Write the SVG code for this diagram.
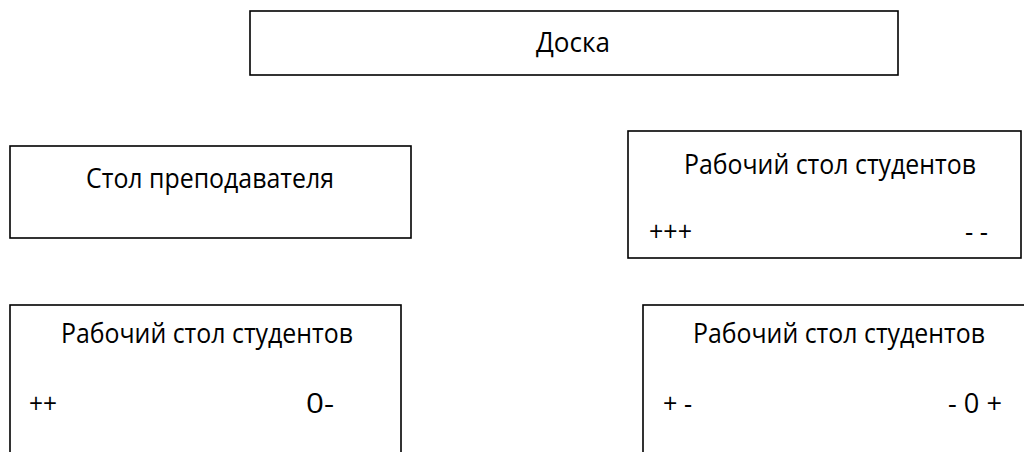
<svg xmlns="http://www.w3.org/2000/svg" width="1024" height="452" viewBox="0 0 1024 452">
<style>
.box{fill:#fff;stroke:#000;stroke-width:1.6}
.t{font-family:"Open Sans","Noto Sans","DejaVu Sans",sans-serif;font-size:27.5px;fill:#000}
.c{text-anchor:middle}
</style>
<rect width="1024" height="452" fill="#fff"/>
<g id="board">
<rect class="box" x="250" y="11" width="648" height="64"/>
<text class="t c" x="573" y="52" textLength="74" lengthAdjust="spacingAndGlyphs">Доска</text>
</g>
<g id="teacher-desk">
<rect class="box" x="10" y="146" width="401" height="92"/>
<text class="t c" x="210" y="188" textLength="248" lengthAdjust="spacingAndGlyphs">Стол преподавателя</text>
</g>
<g id="student-desk-1">
<rect class="box" x="628" y="131" width="393" height="127"/>
<text class="t c" x="830" y="174" textLength="292" lengthAdjust="spacingAndGlyphs">Рабочий стол студентов</text>
<text class="t" x="649" y="241" textLength="43" lengthAdjust="spacingAndGlyphs">+++</text>
<text class="t" x="965" y="241" textLength="23" lengthAdjust="spacingAndGlyphs">- -</text>
</g>
<g id="student-desk-2">
<rect class="box" x="10" y="305" width="391" height="160"/>
<text class="t c" x="207" y="343" textLength="292" lengthAdjust="spacingAndGlyphs">Рабочий стол студентов</text>
<text class="t" x="29" y="413" textLength="28" lengthAdjust="spacingAndGlyphs">++</text>
<text class="t" x="306" y="413" textLength="28" lengthAdjust="spacingAndGlyphs">0-</text>
</g>
<g id="student-desk-3">
<rect class="box" x="643" y="305" width="400" height="160"/>
<text class="t c" x="839" y="343" textLength="292" lengthAdjust="spacingAndGlyphs">Рабочий стол студентов</text>
<text class="t" x="663" y="413" textLength="29" lengthAdjust="spacingAndGlyphs">+ -</text>
<text class="t" x="948" y="413" textLength="54" lengthAdjust="spacingAndGlyphs">- 0 +</text>
</g>
<g id="connectors"></g>
</svg>
